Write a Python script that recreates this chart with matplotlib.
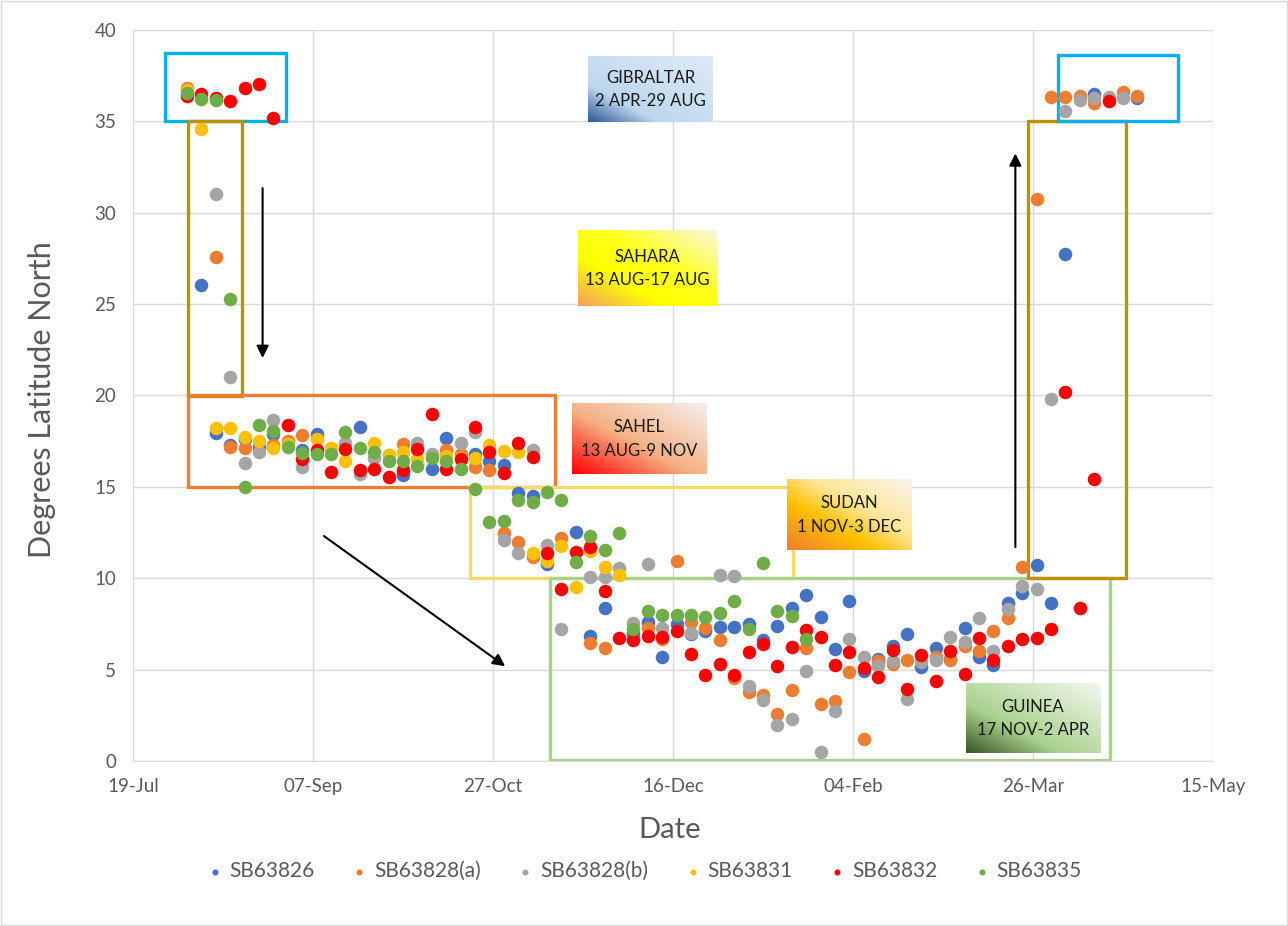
import numpy as np
import pandas as pd
import matplotlib
matplotlib.use("Agg")
import matplotlib.pyplot as plt
import matplotlib.dates as mdates
from matplotlib.colors import LinearSegmentedColormap
from matplotlib.patches import Rectangle

plt.rcParams['font.family'] = ['Lato', 'DejaVu Sans']

N = np.nan

# geolocator fixes, one every 4 days from 3 Aug 2018
fix_dates = pd.date_range("2018-08-03", periods=67, freq="4D")

sb63826 = [N, 26.05, 17.95, 17.3, 17.6, 17.2, 17.9, N, 17.0, 17.9,
           N, N, 18.3, N, N, 15.65, N, 16.0, 17.7, N,
           16.8, 16.4, 16.2, 14.65, 14.5, 10.8, N, 12.55, 6.85, 8.35,
           N, 6.95, 7.6, 5.7, 7.5, 6.95, 7.1, 7.35, 7.35, 7.5,
           6.6, 7.4, 8.35, 9.1, 7.9, 6.15, 8.77, 4.9, 5.6, 6.3,
           6.95, 5.15, 6.2, 5.6, 7.3, 5.7, 5.25, 8.65, 9.2, 10.7,
           8.65, 27.75, N, 36.5, N, N, 36.3]

sb63828a = [36.8, N, 27.6, 17.2, 17.1, N, 17.3, 17.5, 17.85, N,
            N, N, N, N, 16.75, 17.35, N, N, 17.0, 16.8,
            16.1, 15.9, 12.45, 12.0, 11.15, N, 12.2, N, 6.45, 6.2,
            N, N, 7.3, 6.7, 10.95, 7.6, 7.3, 6.6, 4.55, 3.8,
            3.6, 2.55, 3.9, 6.2, 3.1, 3.3, 4.85, 1.2, 5.45, 5.3,
            5.5, N, 5.7, 5.5, 6.3, 6.0, 7.1, 7.8, 10.6, 30.75,
            36.35, 36.35, 36.4, 36.0, N, 36.6, 36.4]

sb63828b = [N, N, 31.0, 21.0, 16.3, 16.9, 18.65, N, 16.1, N,
            N, 17.4, 15.7, 16.6, N, N, 17.4, 16.8, N, 17.4,
            18.0, N, 12.1, 11.4, 17.0, 11.8, 7.2, N, 10.05, 10.05,
            10.55, 7.55, 10.8, 7.3, N, 7.0, N, 10.2, 10.15, 4.1,
            3.35, 1.95, 2.3, 4.95, 0.5, 2.75, 6.65, 5.7, 5.2, 5.45,
            3.4, 5.4, 5.5, 6.8, 6.5, 7.85, 6.0, 8.3, 9.6, 9.4,
            19.8, 35.55, 36.15, 36.3, 36.35, 36.3, N]

sb63831 = [36.7, 34.6, 18.2, 18.2, 17.75, 17.5, 17.1, 17.35, N, 17.6,
           17.1, 16.4, N, 17.4, 16.75, 16.9, 16.5, N, 16.7, 16.6,
           16.6, 17.3, 16.95, 16.9, 11.4, 10.95, 11.75, 9.5, 11.5, 10.6,
           10.2] + [N] * 36

sb63832 = [36.4, 36.5, 36.3, 36.1, 36.8, 37.05, 35.2, 18.4, 16.5, 17.0,
           15.8, 17.05, 15.9, 16.0, 15.55, 15.9, 17.05, 19.0, 16.0, 16.5,
           18.3, 16.9, 15.75, 17.4, 16.65, 11.4, 9.4, 11.45, 11.7, 9.3,
           6.75, 6.6, 6.85, 6.8, 7.1, 5.85, 4.7, 5.3, 4.7, 5.95,
           6.4, 5.2, 6.25, 7.15, 6.8, 5.25, 5.95, 5.07, 4.6, 6.1,
           3.95, 5.8, 4.4, 6.0, 4.75, 6.75, 5.5, 6.3, 6.7, 6.75,
           7.25, 20.2, 8.35, 15.45, 36.1, N, N]

sb63835 = [36.55, 36.2, 36.15, 25.3, 15.0, 18.4, 18.05, 17.2, 16.85, 16.8,
           16.8, 18.0, 17.1, 16.9, 16.4, 16.4, 16.15, 16.6, 16.4, 16.0,
           14.9, 13.1, 13.15, 14.3, 14.15, 14.7, 14.3, 10.9, 12.3, 11.55,
           12.45, 7.2, 8.2, 8.0, 8.0, 8.0, 7.9, 8.1, 8.77, 7.25,
           10.85, 8.2, 7.95, 6.7] + [N] * 23

series = [("SB63826", sb63826, "#4472C4"),
          ("SB63828(a)", sb63828a, "#ED7D31"),
          ("SB63828(b)", sb63828b, "#A5A5A5"),
          ("SB63831", sb63831, "#FFC000"),
          ("SB63832", sb63832, "#FF0000"),
          ("SB63835", sb63835, "#70AD47")]

x_start = pd.Timestamp("2018-07-19")


def dnum(days):
    return mdates.date2num(x_start + pd.Timedelta(days=days))


fig = plt.figure(figsize=(12.88, 9.26), dpi=100)
ax = fig.add_axes([133 / 1288, 1 - 761 / 926, 1080 / 1288, 731 / 926])

for name, lat, col in series:
    ax.scatter(fix_dates, lat, s=95, color=col, label=name, zorder=3, linewidths=0)

# region outlines (days after 19 Jul, latitude)
regions = [(9, 42.4, 35, 38.75, "#00B0F0"),
           (15.2, 30.2, 20, 35, "#BF9000"),
           (15.2, 117.3, 15, 20, "#ED7D31"),
           (93.7, 183.3, 10, 15, "#FFD966"),
           (115.9, 271.4, 0.05, 10, "#A9D18E"),
           (248.7, 275.9, 10, 35, "#BF9000"),
           (257.0, 290.3, 35, 38.65, "#00B0F0")]
for d0, d1, y0, y1, col in regions:
    ax.add_patch(Rectangle((dnum(d0), y0), dnum(d1) - dnum(d0), y1 - y0,
                           fill=False, edgecolor=col, lw=2.4, zorder=2))


def gradient_box(x0, x1, y0, y1, stops, text):
    cmap = LinearSegmentedColormap.from_list("g", stops)
    xx, yy = np.meshgrid(np.linspace(0, 1, 80), np.linspace(0, 1, 80))
    ax.imshow((xx + yy) / 2, cmap=cmap, extent=(x0, x1, y0, y1), origin="lower",
              aspect="auto", transform=ax.transAxes, zorder=4, interpolation="bilinear")
    ax.text((x0 + x1) / 2, (y0 + y1) / 2, text, transform=ax.transAxes, ha="center",
            va="center", fontsize=12, color="#1a1a1a", zorder=5, linespacing=1.6)


gradient_box(0.4213, 0.537, 0.874, 0.963,
             [(0, "#2F5597"), (0.28, "#BDD7EE"), (1, "#DEEBF7")], "GIBRALTAR\n2 APR-29 AUG")
gradient_box(0.412, 0.540, 0.6224, 0.725,
             [(0, "#F0A060"), (0.32, "#FFFF00"), (0.6, "#FFFF20"), (1, "#F8F8E0")], "SAHARA\n13 AUG-17 AUG")
gradient_box(0.4065, 0.5306, 0.3926, 0.4884,
             [(0, "#FF0000"), (0.45, "#F4B183"), (1, "#F6EEEC")], "SAHEL\n13 AUG-9 NOV")
gradient_box(0.6056, 0.7213, 0.2886, 0.3844,
             [(0, "#ED7D31"), (0.35, "#FFC000"), (0.6, "#FFE699"), (1, "#F8F4EA")], "SUDAN\n1 NOV-3 DEC")
gradient_box(0.7713, 0.8954, 0.0109, 0.1053,
             [(0, "#385723"), (0.35, "#A9D18E"), (1, "#F2F8EE")], "GUINEA\n17 NOV-2 APR")

arrow = dict(arrowstyle="-|>", color="black", lw=1.5, mutation_scale=18)
ax.annotate("", xy=(dnum(36.0), 21.9), xytext=(dnum(36.0), 31.5), arrowprops=arrow, zorder=5)
ax.annotate("", xy=(dnum(104), 5.1), xytext=(dnum(52.4), 12.4), arrowprops=arrow, zorder=5)
ax.annotate("", xy=(dnum(245.1), 33.4), xytext=(dnum(245.1), 11.55), arrowprops=arrow, zorder=5)

ax.set_xlim(dnum(0), dnum(300))
ax.set_ylim(0, 40)
ax.set_xticks([dnum(d) for d in range(0, 301, 50)])
ax.xaxis.set_major_formatter(mdates.DateFormatter("%d-%b"))
ax.set_yticks(range(0, 41, 5))
ax.grid(True, color="#D9D9D9", lw=1)
ax.set_axisbelow(True)
for s in ["top", "right", "left"]:
    ax.spines[s].set_visible(False)
ax.spines["bottom"].set_color("#D9D9D9")
ax.tick_params(length=0, labelsize=13.5, labelcolor="#595959", pad=12)

fig.text(42 / 1288, 1 - 400 / 926, "Degrees Latitude North", rotation=90, ha="center",
         va="center", fontsize=22, color="#595959")
fig.text(670 / 1288, 1 - 830 / 926, "Date", ha="center", va="center", fontsize=21, color="#595959")

fig.legend(loc="center", bbox_to_anchor=(0.5, 1 - 871 / 926), ncol=6, frameon=False,
           fontsize=15, labelcolor="#595959", markerscale=0.45, handlelength=0.8,
           handletextpad=0.3, columnspacing=1.75)

fig.patches.append(Rectangle((0.001, 0.001), 0.998, 0.998, transform=fig.transFigure,
                             fill=False, edgecolor="#D9D9D9", lw=1))

fig.savefig("out.png", dpi=100)
